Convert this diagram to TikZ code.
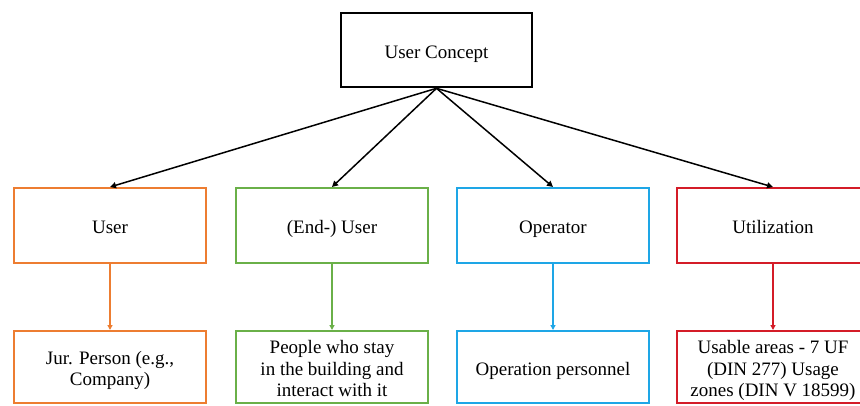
\documentclass[tikz,border=0pt]{standalone}
\usepackage{fontspec}
\setmainfont{Liberation Serif}
\newfontfamily\diagfont{Liberation Serif}
\usetikzlibrary{arrows.meta}
\definecolor{corange}{RGB}{237,125,49}
\definecolor{cgreen}{RGB}{106,176,72}
\definecolor{cblue}{RGB}{30,166,230}
\definecolor{cred}{RGB}{212,28,40}
\newcommand{\boxtext}[1]{\raisebox{-3.8pt}[\height][\depth]{\def\arraystretch{1}\begin{tabular}{@{}c@{}}#1\end{tabular}}}
\tikzset{
  box/.style={draw, rectangle, line width=2pt, minimum width=192pt, minimum height=75pt, inner sep=1pt, font=\diagfont\fontsize{19}{21.7}\selectfont},
  lowbox/.style={box, minimum height=72pt},
  topbox/.style={box, line width=2.6pt, minimum width=191pt, minimum height=74pt},
  blackarrow/.style={line width=1.5pt, -{Triangle[length=6pt,width=6pt]}},
  colarrow/.style={line width=1.6pt, -{Triangle[length=5pt,width=5pt]}}
}
\begin{document}
\begin{tikzpicture}[x=1pt,y=-1pt]
\useasboundingbox (0,0) rectangle (860,405);
\clip (0,0) rectangle (860,405);
\node[topbox] (top) at (436.5,50) {\boxtext{User Concept}};
\node[box, draw=corange] (m1) at (110,225.5) {\boxtext{User}};
\node[box, draw=cgreen] (m2) at (332,225.5) {\boxtext{(End-) User}};
\node[box, draw=cblue] (m3) at (553,225.5) {\boxtext{Operator}};
\node[box, draw=cred] (m4) at (773,225.5) {\boxtext{Utilization}};
\node[lowbox, draw=corange] (l1) at (110,367) {\boxtext{Jur. Person (e.g.,\\Company)}};
\node[lowbox, draw=cgreen] (l2) at (332,367) {\boxtext{People who stay\\in the building and\\interact with it}};
\node[lowbox, draw=cblue] (l3) at (553,367) {\boxtext{Operation personnel}};
\node[lowbox, draw=cred] (l4) at (773,367) {\boxtext{Usable areas - 7 UF\\(DIN 277) Usage\\zones (DIN V 18599)}};
\foreach \m in {m1,m2,m3,m4}{\draw[blackarrow] (top.south) -- (\m.north);}
\draw[colarrow, draw=corange, fill=corange] (m1.south) -- (l1.north);
\draw[colarrow, draw=cgreen, fill=cgreen] (m2.south) -- (l2.north);
\draw[colarrow, draw=cblue, fill=cblue] (m3.south) -- (l3.north);
\draw[colarrow, draw=cred, fill=cred] (m4.south) -- (l4.north);
\end{tikzpicture}
\end{document}
